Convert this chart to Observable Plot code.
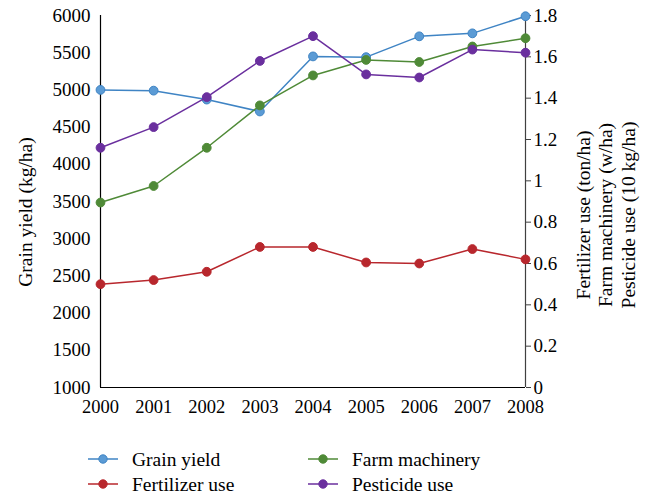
<!DOCTYPE html>
<html><head><meta charset="utf-8">
<script src="https://cdn.jsdelivr.net/npm/d3@7"></script>
<script src="https://cdn.jsdelivr.net/npm/@observablehq/plot@0.6"></script>
<style>body{margin:0;background:#fff} #chart{position:relative;width:652px;height:496px}</style>
</head><body><div id="chart"></div>
<script>
const years = [2000, 2001, 2002, 2003, 2004, 2005, 2006, 2007, 2008];
const grainYield = [5000, 4990, 4870, 4710, 5450, 5440, 5720, 5760, 5990];
const fertilizerUse = [0.50, 0.52, 0.56, 0.68, 0.68, 0.605, 0.60, 0.67, 0.62];
const farmMachinery = [0.895, 0.975, 1.16, 1.365, 1.51, 1.585, 1.575, 1.65, 1.69];
const pesticideUse = [1.16, 1.26, 1.405, 1.58, 1.70, 1.515, 1.50, 1.635, 1.62];
const leftTicks = [1000, 1500, 2000, 2500, 3000, 3500, 4000, 4500, 5000, 5500, 6000];
const rightTicks = [0, 0.2, 0.4, 0.6, 0.8, 1, 1.2, 1.4, 1.6, 1.8];
const seriesNames = ["Grain yield", "Fertilizer use", "Farm machinery", "Pesticide use"];
const seriesColors = ["#3f84c4", "#b8272d", "#4f8a37", "#6a2f9e"];
const seriesFills = ["#5b9bd5", "#b8272d", "#4f8a37", "#6a2f9e"];
const leftTitle = "Grain yield (kg/ha)";
const rightTitles = ["Fertilizer use (ton/ha)", "Farm machinery (w/ha)", "Pesticide use (10 kg/ha)"];

const L0 = 1000, L1 = 6000, R1 = 1.8;
const toLeft = v => L0 + v / R1 * (L1 - L0);
const fromLeft = d => Math.round((d - L0) / (L1 - L0) * R1 * 10) / 10;

const seriesValues = [grainYield, fertilizerUse, farmMachinery, pesticideUse];
const series = seriesNames.map((name, i) => years.map((year, j) => ({
  year, series: name,
  y: i === 0 ? seriesValues[i][j] : toLeft(seriesValues[i][j])
})));

const FONT = "'Liberation Serif', 'DejaVu Serif', serif";
const TICK = 19, TITLE = 19.5;
const marks = [
  Plot.ruleY([L0], {stroke: "black", strokeWidth: 1.2}),
  Plot.ruleX([2000], {stroke: "black", strokeWidth: 1.2}),
  Plot.ruleX([2008], {stroke: "#404040", strokeWidth: 1.2}),
  Plot.axisY(leftTicks, {anchor: "left", tickSize: 0, tickPadding: 10, label: null, fill: "black",
    fontSize: TICK, tickFormat: d => String(d)}),
  Plot.axisY(rightTicks.map(toLeft), {anchor: "right", tickSize: 5, tickPadding: 3, label: null,
    stroke: "#404040", fill: "black", fontSize: TICK, tickFormat: d => String(fromLeft(d))}),
  Plot.axisX(years, {anchor: "bottom", tickSize: 0, tickPadding: 12.5, label: null, fill: "black",
    fontSize: 18.5, tickFormat: d => String(d)})
];
series.forEach((rows, i) => {
  marks.push(Plot.line(rows, {x: "year", y: "y", stroke: seriesColors[i], strokeWidth: 1.5}));
  marks.push(Plot.dot(rows, {x: "year", y: "y", r: 4.4, fill: seriesFills[i], stroke: seriesColors[i], strokeWidth: 1}));
});

const chart = Plot.plot({
  width: 652, height: 496,
  marginLeft: 100, marginRight: 127, marginTop: 15, marginBottom: 109,
  style: {fontFamily: FONT, fontSize: TICK + "px", color: "black", background: "white"},
  x: {domain: [2000, 2008], axis: null},
  y: {domain: [L0, L1], axis: null},
  marks
});
document.getElementById("chart").appendChild(chart);

const svg = d3.select(chart);
const addText = (txt, x, y) => svg.append("text")
  .attr("transform", `translate(${x},${y}) rotate(-90)`)
  .attr("text-anchor", "middle").attr("dy", "0.35em")
  .attr("font-family", FONT).attr("font-size", TITLE).attr("fill", "black").text(txt);
addText(leftTitle, 25, 212);
rightTitles.forEach((t, i) => addText(t, [583, 605, 628][i], 215));

// legend
const lg = svg.append("g").attr("font-family", FONT).attr("font-size", TITLE).attr("text-anchor", "start");
seriesNames.forEach((name, i) => {
  const col = Math.floor(i / 2), row = i % 2;
  const x0 = col === 0 ? 88 : 308;
  const yy = row === 0 ? 459 : 484;
  lg.append("line").attr("x1", x0).attr("x2", x0 + 30).attr("y1", yy).attr("y2", yy)
    .attr("stroke", seriesColors[i]).attr("stroke-width", 1.5);
  lg.append("circle").attr("cx", x0 + 15).attr("cy", yy).attr("r", 4.2)
    .attr("fill", seriesFills[i]).attr("stroke", seriesColors[i]);
  lg.append("text").attr("x", x0 + 44).attr("y", yy).attr("dy", "0.35em")
    .attr("text-anchor", "start").attr("fill", "black").text(name);
});
</script></body></html>
